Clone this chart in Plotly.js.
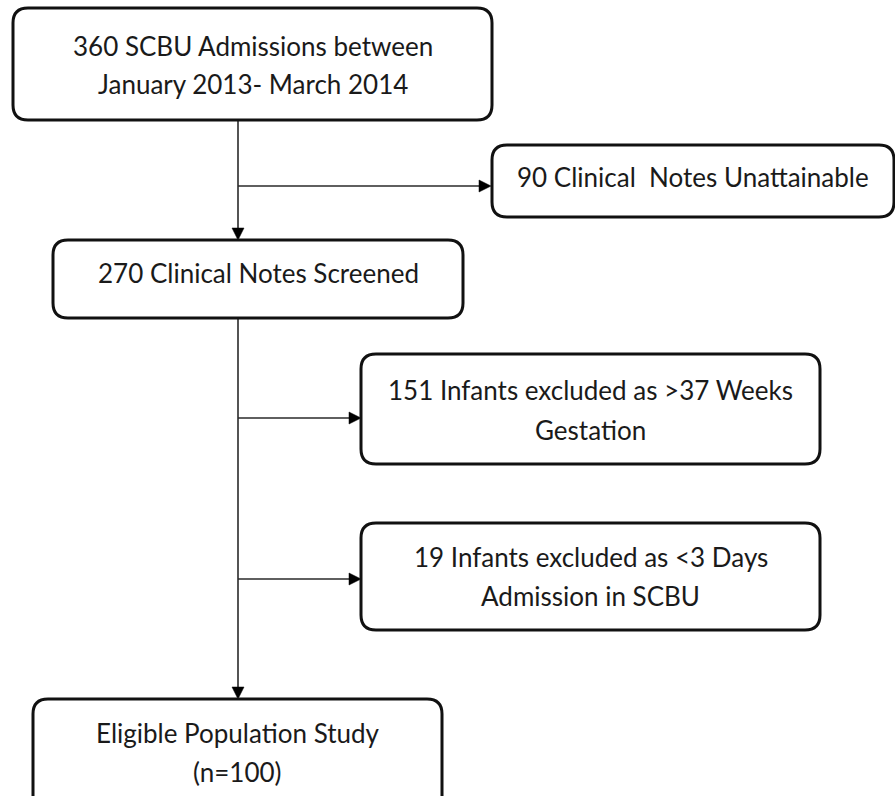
<!DOCTYPE html>
<html>
<head>
<meta charset="utf-8">
<script src="https://cdn.plot.ly/plotly-3.0.1.min.js"></script>
<style>
  html, body { margin: 0; padding: 0; background: #ffffff; }
  #chart { width: 895px; height: 796px; }
</style>
</head>
<body>
<div id="chart"></div>
<script>
// ---- Flowchart content (text of each step) ----
const stepIds = ["admissions", "unattainable", "screened", "gestation", "shortstay", "eligible"];
const stepLines = [
  ["360 SCBU Admissions between", "January 2013- March 2014"],
  ["90 Clinical  Notes Unattainable"],
  ["270 Clinical Notes Screened"],
  ["151 Infants excluded as >37 Weeks", "Gestation"],
  ["19 Infants excluded as <3 Days", "Admission in SCBU"],
  ["Eligible Population Study", "(n=100)"]
];
const stepCounts = [360, 90, 270, 151, 19, 100];

// ---- Layout geometry (pixel space of the figure) ----
const boxX0 = [13, 492, 53, 361, 361, 33];
const boxX1 = [492, 894, 463, 820, 820, 442];
const boxY0 = [8, 145, 240, 354, 523, 699];
const boxY1 = [120, 217, 318, 464, 630, 812];
const textY = [[46, 84], [177], [273], [390, 430], [557, 596], [733, 772]];
const spineX = 238;
// connectors: [x0, y0, x1, y1, direction]
const connectors = [
  [spineX, 120, spineX, 240, "down"],
  [spineX, 186, 491, 186, "right"],
  [spineX, 318, spineX, 699, "down"],
  [spineX, 418, 361, 418, "right"],
  [spineX, 579, 361, 579, "right"]
];

const radius = 15;
const lineColor = "#111111";
const textColor = "#1a1a1a";
const fontFamily = "Lato, 'Open Sans', sans-serif";
const fontSize = 26;

function roundedRect(x0, y0, x1, y1, r) {
  return `M ${x0 + r},${y0} L ${x1 - r},${y0} Q ${x1},${y0} ${x1},${y0 + r} ` +
         `L ${x1},${y1 - r} Q ${x1},${y1} ${x1 - r},${y1} L ${x0 + r},${y1} ` +
         `Q ${x0},${y1} ${x0},${y1 - r} L ${x0},${y0 + r} Q ${x0},${y0} ${x0 + r},${y0} Z`;
}

const shapes = [];
const annotations = [];

// connectors first (under boxes)
const ah = 12, aw = 6;
connectors.forEach(c => {
  const [x0, y0, x1, y1, dir] = c;
  shapes.push({
    type: "line", xref: "x", yref: "y",
    x0: x0, y0: y0, x1: dir === "down" ? x1 : x1 - ah + 1, y1: dir === "down" ? y1 - ah + 1 : y1,
    line: { color: "#2a2a2a", width: 1.6 }
  });
  let p;
  if (dir === "down") {
    p = `M ${x1 - aw},${y1 - ah} L ${x1 + aw},${y1 - ah} L ${x1},${y1} Z`;
  } else {
    p = `M ${x1 - ah},${y1 - aw} L ${x1 - ah},${y1 + aw} L ${x1},${y1} Z`;
  }
  shapes.push({ type: "path", xref: "x", yref: "y", path: p,
    fillcolor: "#000000", line: { color: "#000000", width: 0.5 } });
});

stepIds.forEach((id, i) => {
  shapes.push({
    type: "path", xref: "x", yref: "y",
    path: roundedRect(boxX0[i], boxY0[i], boxX1[i], boxY1[i], radius),
    fillcolor: "#ffffff",
    line: { color: lineColor, width: 3 }
  });
  const cx = (boxX0[i] + boxX1[i]) / 2;
  stepLines[i].forEach((txt, j) => {
    annotations.push({
      xref: "x", yref: "y", x: cx, y: textY[i][j],
      text: txt, showarrow: false,
      xanchor: "center", yanchor: "middle",
      font: { family: fontFamily, size: fontSize, color: textColor }
    });
  });
});

const layout = {
  width: 895, height: 796,
  margin: { l: 0, r: 0, t: 0, b: 0, pad: 0 },
  paper_bgcolor: "#ffffff", plot_bgcolor: "#ffffff",
  xaxis: { range: [0, 895], visible: false, fixedrange: true },
  yaxis: { range: [796, 0], visible: false, fixedrange: true },
  shapes: shapes,
  annotations: annotations,
  showlegend: false
};

Plotly.newPlot("chart", [{ x: [], y: [], type: "scatter", mode: "markers", hoverinfo: "skip" }], layout,
  { staticPlot: true, displayModeBar: false });
</script>
</body>
</html>
